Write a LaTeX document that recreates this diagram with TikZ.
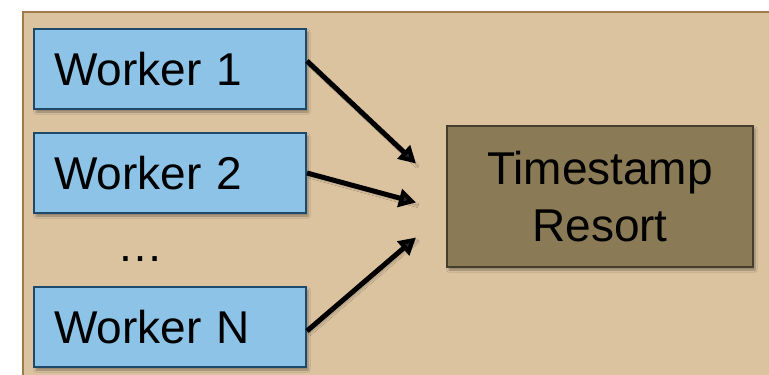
\documentclass[tikz,border=0pt]{standalone}
\usepackage{fontspec}
\setmainfont{Liberation Sans}
\usetikzlibrary{arrows.meta,shadows.blur,positioning}
\definecolor{panelfill}{HTML}{DBC3A0}
\definecolor{panelline}{HTML}{A07A48}
\definecolor{workerfill}{HTML}{8CC3E6}
\definecolor{workerline}{HTML}{1D4A6B}
\definecolor{sortfill}{HTML}{8A7A55}
\definecolor{sortline}{HTML}{463E2C}
\tikzset{
  worker/.style={draw=workerline, fill=workerfill, line width=2pt,
    minimum height=80pt, text width=232pt, inner xsep=20pt, align=left,
    anchor=north west, font=\fontsize{46}{52}\selectfont,
    blur shadow={shadow xshift=2pt, shadow yshift=-3pt, shadow blur steps=6, shadow opacity=35}},
  sorter/.style={draw=sortline, fill=sortfill, line width=2pt,
    minimum width=306pt, minimum height=141pt, align=center,
    font=\fontsize{46}{57}\selectfont,
    blur shadow={shadow xshift=2pt, shadow yshift=-3pt, shadow blur steps=6, shadow opacity=35}},
  feed/.style={line width=5pt, -{Triangle[length=17pt,width=18pt]},
    blur shadow={shadow xshift=2pt, shadow yshift=-3pt, shadow blur steps=4, shadow opacity=30}}
}
\begin{document}
\begin{tikzpicture}[x=1pt,y=-1pt]
\useasboundingbox (0,0) rectangle (769,375);
\fill[white] (0,0) rectangle (769,375);
\begin{scope}
  \clip (0,0) rectangle (769,375);
  \draw[panelline, fill=panelfill, line width=2pt] (23,12) rectangle (800,400);
\end{scope}

\node[worker] (w1) at (33,28) {Worker 1};
\node[worker] (w2) at (33,132) {Worker 2};
\node[worker] (wn) at (33,286) {Worker N};
\node[font=\fontsize{46}{52}\selectfont] (dots) at (140,259) {…};

\node[sorter] (ts) at (600,196.5) {Timestamp\\Resort};

\coordinate (t1) at ([xshift=-30pt,yshift=33pt]ts.west);
\coordinate (t2) at ([xshift=-30pt,yshift=-6pt]ts.west);
\coordinate (tn) at ([xshift=-30pt,yshift=-41pt]ts.west);

\draw[feed] ([yshift=8pt]w1.east) -- (t1);
\draw[feed] (w2.east) -- (t2);
\draw[feed] ([yshift=-4pt]wn.east) -- (tn);
\end{tikzpicture}
\end{document}
